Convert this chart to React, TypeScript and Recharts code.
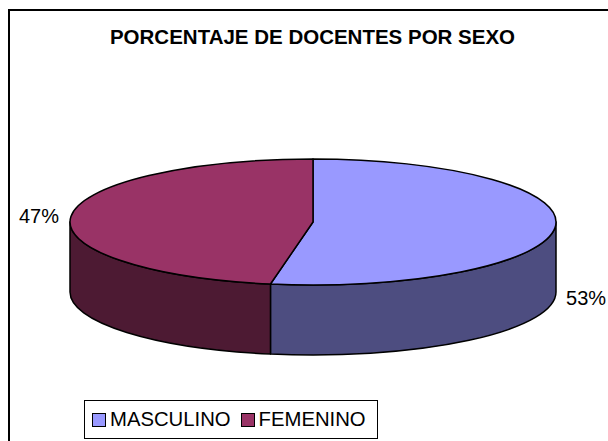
import { PieChart, Pie, Legend } from 'recharts';

const categories = ['MASCULINO', 'FEMENINO'];
const shares = [52.8, 47.2];
const topColors = ['#9999FF', '#993366'];
const wallColors = ['#4D4D80', '#4D1A33'];
const labelOffsets = [
  { dx: 31, dy: 70 },
  { dx: -32, dy: 0 },
];

const data = categories.map((name, i) => ({ name, value: shares[i], fill: topColors[i] }));

const FONT = '"Liberation Sans", Arial, sans-serif';
const TILT = 63 / 243; // ellipse squash of the 3D look
const DEPTH = 70;
const RAD = Math.PI / 180;

function point(cx: number, cy: number, r: number, deg: number) {
  return [cx + r * Math.cos(deg * RAD), cy - r * TILT * Math.sin(deg * RAD)];
}

function Slice3D(props: any) {
  const { cx, cy, outerRadius: r, startAngle, endAngle, index } = props;
  const ry = r * TILT;
  const [sx, sy] = point(cx, cy, r, startAngle);
  const [ex, ey] = point(cx, cy, r, endAngle);
  const large = startAngle - endAngle > 180 ? 1 : 0;
  const top = `M${cx} ${cy}L${sx} ${sy}A${r} ${ry} 0 ${large} 1 ${ex} ${ey}Z`;

  // only the front half of the rim can be seen
  const wallFrom = Math.min(startAngle, 0);
  const wallTo = Math.max(endAngle, -180);
  let wall = null;
  if (wallFrom > wallTo) {
    const [ax, ay] = point(cx, cy, r, wallFrom);
    const [bx, by] = point(cx, cy, r, wallTo);
    wall = `M${ax} ${ay}A${r} ${ry} 0 0 1 ${bx} ${by}L${bx} ${by + DEPTH}A${r} ${ry} 0 0 0 ${ax} ${ay + DEPTH}Z`;
  }

  return (
    <g>
      {wall && <path d={wall} fill={wallColors[index]} stroke="#000" strokeWidth={1.5} strokeLinejoin="round" />}
      <path d={top} fill={topColors[index]} stroke="#000" strokeWidth={1.5} strokeLinejoin="round" />
    </g>
  );
}

function PercentLabel(props: any) {
  const { cx, cy, outerRadius, midAngle, percent, index } = props;
  const [x, y] = point(cx, cy, outerRadius, midAngle);
  return (
    <text
      x={x + labelOffsets[index].dx}
      y={y + labelOffsets[index].dy}
      textAnchor="middle"
      dominantBaseline="central"
      fontFamily={FONT}
      fontSize={20}
      fill="#000"
    >
      {`${(percent * 100).toFixed(0)}%`}
    </text>
  );
}

function LegendBox({ payload }: any) {
  return (
    <div
      style={{
        boxSizing: 'border-box',
        width: 294,
        height: 39,
        border: '1.5px solid #000',
        background: '#fff',
        display: 'flex',
        alignItems: 'center',
        paddingLeft: 7,
        fontFamily: FONT,
        fontSize: 20.3,
        color: '#000',
      }}
    >
      {(payload || []).map((entry: any, i: number) => (
        <span key={entry.value} style={{ display: 'flex', alignItems: 'center', marginRight: 10 }}>
          <span
            style={{
              boxSizing: 'border-box',
              display: 'inline-block',
              width: 14,
              height: 14,
              marginRight: 4,
              background: topColors[i],
              border: '1.5px solid #000',
            }}
          />
          {entry.value}
        </span>
      ))}
    </div>
  );
}

export default function App() {
  return (
    <div style={{ position: 'absolute', left: 0, top: 0, width: 608, height: 441, overflow: 'hidden', background: '#fff' }}>
      <div
        style={{
          position: 'absolute',
          left: 8,
          top: 9,
          width: 620,
          height: 460,
          borderLeft: '2px solid #000',
          borderTop: '2px solid #000',
        }}
      />
      <PieChart
        width={608}
        height={441}
        margin={{ top: 0, right: 0, bottom: 0, left: 0 }}
        accessibilityLayer={false}
        style={{ position: 'absolute', left: 0, top: 0 }}
      >
        <text x={312.5} y={36} textAnchor="middle" dominantBaseline="central" fontFamily={FONT} fontSize={20.5} fontWeight="bold" fill="#000">
          PORCENTAJE DE DOCENTES POR SEXO
        </text>
        <Pie
          data={data}
          dataKey="value"
          nameKey="name"
          cx={313}
          cy={222}
          outerRadius={243}
          startAngle={90}
          endAngle={-270}
          paddingAngle={0}
          shape={Slice3D}
          label={PercentLabel}
          labelLine={false}
          isAnimationActive={false}
        />
        <Legend
          content={LegendBox}
          itemSorter={null}
          wrapperStyle={{ position: 'absolute', left: 84, top: 400, width: 294, height: 39 }}
        />
      </PieChart>
    </div>
  );
}
